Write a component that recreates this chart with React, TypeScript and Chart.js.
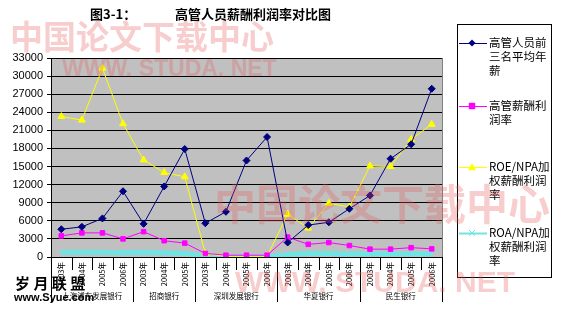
import React, { useEffect, useRef } from 'react';
import { Chart, registerables } from 'chart.js';

Chart.register(...registerables);

// ---- data ----
const years = ['2003年', '2004年', '2005年', '2006年', '2003年', '2004年', '2005年', '2003年', '2004年', '2005年', '2006年', '2003年', '2004年', '2005年', '2006年', '2003年', '2004年', '2005年', '2006年'];
const banks = ['上海浦东发展银行', '招商银行', '深圳发展银行', '华夏银行', '民生银行'];
const bankSizes = [4, 3, 4, 4, 4];

const seriesNames = ['高管人员前三名平均年薪', '高管薪酬利润率', 'ROE/NPA加权薪酬利润率', 'ROA/NPA加权薪酬利润率'];
const legendLines = [
  ['高管人员前', '三名平均年', '薪'],
  ['高管薪酬利', '润率'],
  ['ROE/NPA加', '权薪酬利润', '率'],
  ['ROA/NPA加', '权薪酬利润', '率'],
];

const topSalary = [4600, 5000, 6400, 10900, 5500, 11700, 17900, 5600, 7500, 16000, 19900, 2400, 5300, 5750, 8000, 10200, 16300, 18700, 27900];
const salaryProfitRate = [3500, 4000, 4000, 3000, 4200, 2700, 2300, 600, 300, 300, 300, 3300, 2100, 2400, 1900, 1300, 1300, 1550, 1350];
const roeNpaRate = [23300, 22700, 31300, 22100, 16100, 14000, 13300, 600, 100, 100, 100, 7100, 4800, 8900, 8300, 15100, 15000, 19500, 22000];
const roaNpaRate = [800, 800, 800, 700, 800, 700, 600, 100, 0, 0, 0, 400, 600, 600, 500, 500, 500, 500, 500];

const yMin = 0;
const yMax = 33000;
const yStep = 3000;

const titleLeft = '图3-1：';
const titleMain = '高管人员薪酬利润率对比图';

const CJK = '"Noto Sans CJK SC", "Liberation Sans", sans-serif';

const seriesStyles = [
  { color: '#000080', point: 'rectRot', radius: 3.5, width: 1 },
  { color: '#ff00ff', point: 'rect', radius: 3.2, width: 1 },
  { color: '#ffff00', point: 'triangle', radius: 4, width: 1 },
  { color: '#70e4e4', point: 'crossRot', radius: 3, width: 5 },
];

const decorPlugin = {
  id: 'decor',
  beforeDraw(chart: any) {
    const { ctx, chartArea: a } = chart;
    ctx.save();
    ctx.fillStyle = '#ffffff';
    ctx.fillRect(0, 0, chart.width, chart.height);
    ctx.fillStyle = '#c0c0c0';
    ctx.fillRect(a.left, a.top, a.right - a.left, a.bottom - a.top);
    ctx.restore();
  },
  afterDraw(chart: any) {
    const { ctx, chartArea: a } = chart;
    const n = years.length;
    const w = (a.right - a.left) / n;
    ctx.save();

    // plot right border
    ctx.strokeStyle = '#808080';
    ctx.lineWidth = 1;
    ctx.beginPath();
    ctx.moveTo(Math.round(a.right) + 0.5, a.top);
    ctx.lineTo(Math.round(a.right) + 0.5, a.bottom);
    ctx.stroke();

    // x ticks and group separators
    const bounds = [0];
    bankSizes.forEach((s) => bounds.push(bounds[bounds.length - 1] + s));
    ctx.strokeStyle = '#000';
    for (let i = 0; i <= n; i++) {
      const x = Math.round(a.left + i * w) + 0.5;
      const long = bounds.includes(i);
      ctx.beginPath();
      ctx.moveTo(x, a.bottom);
      ctx.lineTo(x, a.bottom + (long ? 45 : 13));
      ctx.stroke();
    }
    // group labels
    ctx.fillStyle = '#000';
    ctx.font = `7.5px ${CJK}`;
    ctx.textAlign = 'center';
    ctx.textBaseline = 'middle';
    for (let g = 0; g < banks.length; g++) {
      const cx = a.left + ((bounds[g] + bounds[g + 1]) / 2) * w;
      ctx.fillText(banks[g], cx, 296);
    }

    // title
    ctx.font = `bold 13px ${CJK}`;
    ctx.textAlign = 'left';
    ctx.fillText(titleLeft, 90, 14);
    ctx.fillText(titleMain, 175, 14);

    // legend
    const lx0 = 457, ly0 = 24, lx1 = 551, ly1 = 277;
    ctx.fillStyle = '#fff';
    ctx.fillRect(lx0, ly0, lx1 - lx0, ly1 - ly0);
    ctx.strokeStyle = '#000';
    ctx.strokeRect(lx0 + 0.5, ly0 + 0.5, lx1 - lx0, ly1 - ly0);
    const itemY = [43, 106, 167, 233];
    ctx.font = `11.5px ${CJK}`;
    ctx.textAlign = 'left';
    ctx.textBaseline = 'middle';
    for (let i = 0; i < legendLines.length; i++) {
      const st = seriesStyles[i];
      const y = itemY[i];
      ctx.strokeStyle = st.color;
      ctx.lineWidth = i === 3 ? 2 : 1;
      ctx.beginPath();
      ctx.moveTo(459, y + 0.5);
      ctx.lineTo(487, y + 0.5);
      ctx.stroke();
      ctx.lineWidth = 1;
      ctx.fillStyle = st.color;
      ctx.strokeStyle = st.color;
      const r = st.radius;
      if (st.point === 'rectRot') {
        ctx.beginPath();
        ctx.moveTo(472, y - r); ctx.lineTo(472 + r, y); ctx.lineTo(472, y + r); ctx.lineTo(472 - r, y); ctx.closePath();
        ctx.fill();
      } else if (st.point === 'rect') {
        ctx.fillRect(472 - r, y - r, 2 * r, 2 * r);
      } else if (st.point === 'triangle') {
        ctx.beginPath();
        ctx.moveTo(472, y - r); ctx.lineTo(472 + r, y + r * 0.8); ctx.lineTo(472 - r, y + r * 0.8); ctx.closePath();
        ctx.fill();
      } else {
        ctx.beginPath();
        ctx.moveTo(472 - r, y - r); ctx.lineTo(472 + r, y + r);
        ctx.moveTo(472 + r, y - r); ctx.lineTo(472 - r, y + r);
        ctx.stroke();
      }
      ctx.fillStyle = '#000';
      legendLines[i].forEach((t, k) => ctx.fillText(t, 489, y + k * 14));
    }

    // watermarks
    ctx.globalAlpha = 0.3;
    ctx.fillStyle = '#e85a5a';
    ctx.textAlign = 'left';
    ctx.font = `bold 33px ${CJK}`;
    ctx.fillText('中国论文下载中心', 10, 36);
    ctx.font = `bold 42px ${CJK}`;
    ctx.fillText('中国论文下载中心', 214, 204);
    ctx.font = `bold 23px "Liberation Sans", sans-serif`;
    ctx.fillText('WWW. STUDA. NET', 62, 70);
    ctx.font = `bold 30px "Liberation Sans", sans-serif`;
    ctx.fillText('WWW. STUDA. NET', 235, 284);
    ctx.globalAlpha = 1;

    ctx.fillStyle = '#000';
    ctx.font = `bold 15px ${CJK}`;
    ctx.fillText('岁 月 联 盟', 15, 283);
    ctx.font = `bold 11px "Liberation Sans", sans-serif`;
    ctx.fillText('www.Syue.com', 14, 298);
    ctx.restore();
  },
};

export default function App() {
  const ref = useRef<HTMLCanvasElement>(null);
  useEffect(() => {
    if (!ref.current) return;
    const data = [topSalary, salaryProfitRate, roeNpaRate, roaNpaRate];
    const chart = new Chart(ref.current, {
      type: 'line',
      data: {
        labels: years,
        datasets: data.map((d, i) => ({
          label: seriesNames[i],
          data: d,
          borderColor: seriesStyles[i].color,
          backgroundColor: seriesStyles[i].color,
          borderWidth: seriesStyles[i].width,
          pointStyle: seriesStyles[i].point as any,
          pointRadius: seriesStyles[i].radius,
          pointBorderWidth: 1,
          pointBorderColor: seriesStyles[i].color,
          pointBackgroundColor: seriesStyles[i].color,
          tension: 0,
          fill: false,
        })),
      },
      options: {
        responsive: false,
        animation: false,
        devicePixelRatio: 1,
        layout: { padding: { left: 0, top: 58, right: 126, bottom: 0 } },
        plugins: {
          legend: { display: false },
          title: { display: false },
          tooltip: { enabled: false },
        },
        scales: {
          x: {
            type: 'category',
            offset: true,
            afterFit: (s: any) => { s.height = 52; },
            grid: { display: true, offset: true, drawOnChartArea: false, drawTicks: false, color: '#000' },
            border: { display: true, color: '#000' },
            ticks: {
              autoSkip: false,
              minRotation: 90,
              maxRotation: 90,
              padding: 5,
              color: '#000',
              font: { size: 7.5, family: CJK },
            },
          },
          y: {
            min: yMin,
            max: yMax,
            afterFit: (s: any) => { s.width = 51; },
            grid: { color: '#000', lineWidth: 1, drawTicks: true, tickLength: 4 },
            border: { display: true, color: '#000' },
            ticks: {
              stepSize: yStep,
              padding: 4,
              color: '#000',
              font: { size: 11, family: '"Liberation Sans", Arial, sans-serif' },
              callback: (v: any) => String(v),
            },
          },
        },
      },
      plugins: [decorPlugin],
    });
    return () => chart.destroy();
  }, []);
  return (
    <div style={{ position: 'absolute', left: 0, top: 0, width: 568, height: 309 }}>
      <canvas ref={ref} width={568} height={309} />
    </div>
  );
}
